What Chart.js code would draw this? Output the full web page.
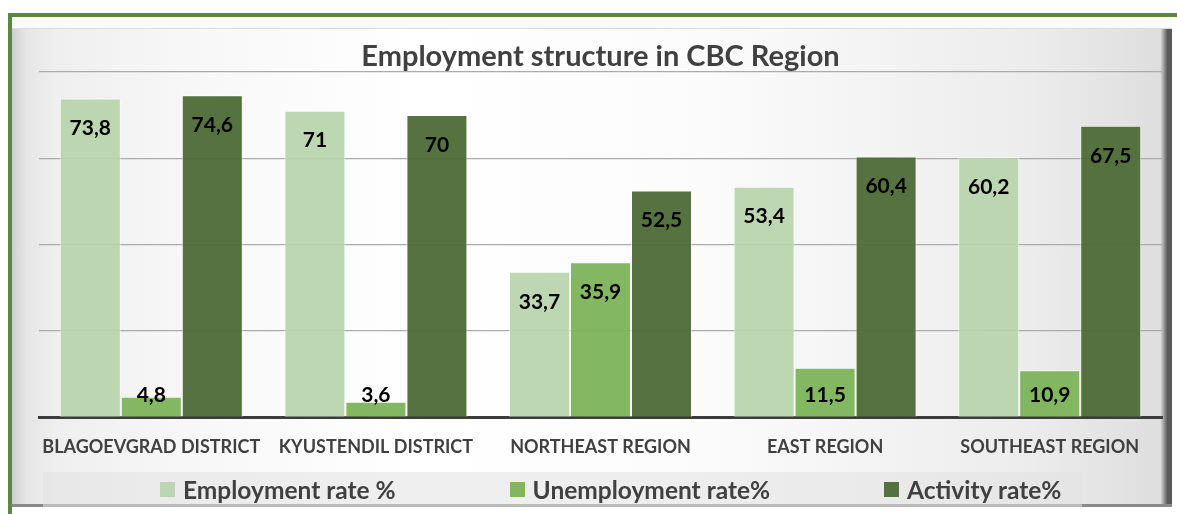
<!DOCTYPE html>
<html>
<head>
<meta charset="utf-8">
<script src="https://cdn.jsdelivr.net/npm/chart.js@4.4.1/dist/chart.umd.min.js"></script>
<style>
  html, body { margin: 0; padding: 0; background: #fff; width: 1177px; height: 514px; overflow: hidden; }
  #frame { position: absolute; left: 8px; top: 13px; width: 1180px; height: 520px;
    border-top: 4px solid #5b8b3a; border-left: 4px solid #5b8b3a; }
  #panel { position: absolute; left: 12px; top: 17px; width: 1160px; height: 490px;
    background: linear-gradient(90deg, #cfcfcf 0%, #e6e6e6 1.2%, #efefef 4%, #f7f7f7 15%, #ffffff 35%, #fbfbfb 60%, #ececec 88%, #dedede 99%, #5a5a5a 99.6%);
    box-shadow: inset 0 -3px 0 #8a8a8a, inset 0 11px 0 #fafafa, inset 0 12px 0 #dcdcdc; }
  #chartBox { position: absolute; left: 12px; top: 17px; width: 1160px; height: 490px; }
  #legend { position: absolute; left: 43px; top: 472px; width: 1039px; height: 35px;
    background: rgba(225,225,225,0.55); display: flex; align-items: center;
    padding-left: 117px; box-sizing: border-box;
    font-family: Lato, "Open Sans", sans-serif; font-weight: bold; font-size: 24.5px; color: #404040; }
  .item { display: flex; align-items: center; margin-right: 114px; white-space: nowrap; }
  .sw { width: 15px; height: 15px; margin-right: 8px; }
</style>
</head>
<body>
<div id="frame"></div>
<div id="panel"></div>
<div id="chartBox"><canvas id="chart" width="1160" height="490"></canvas></div>
<div id="legend"></div>
<script>
// categories
const regions = ['BLAGOEVGRAD DISTRICT', 'KYUSTENDIL DISTRICT', 'NORTHEAST REGION', 'EAST REGION', 'SOUTHEAST REGION'];
// series
const employment = [73.8, 71, 33.7, 53.4, 60.2];
const unemployment = [4.8, 3.6, 35.9, 11.5, 10.9];
const activity = [74.6, 70, 52.5, 60.4, 67.5];
const seriesNames = ['Employment rate %', 'Unemployment rate%', 'Activity rate%'];
const seriesColors = ['rgba(184,212,172,0.93)', 'rgba(124,179,88,0.95)', 'rgba(76,106,54,0.95)'];
const yTicks = [0, 20, 40, 60, 80];

// value labels inside the top of each bar (comma decimals)
const barLabels = {
  id: 'barLabels',
  afterDatasetsDraw(chart) {
    const ctx = chart.ctx;
    ctx.save();
    ctx.font = 'bold 21px Lato, "Open Sans", sans-serif';
    ctx.fillStyle = '#000';
    ctx.textAlign = 'center';
    ctx.textBaseline = 'middle';
    chart.data.datasets.forEach((ds, di) => {
      chart.getDatasetMeta(di).data.forEach((bar, i) => {
        const y = Math.min(bar.y + 30, bar.base - 22);
        ctx.fillText(String(ds.data[i]).replace('.', ','), bar.x, y);
      });
    });
    ctx.restore();
  }
};

const ctx = document.getElementById('chart').getContext('2d');
const chart = new Chart(ctx, {
  type: 'bar',
  data: {
    labels: regions,
    datasets: [employment, unemployment, activity].map((d, i) => ({
      label: seriesNames[i],
      data: d,
      backgroundColor: seriesColors[i],
      borderColor: 'rgba(255,255,255,0.6)',
      borderWidth: 1,
      barPercentage: 1.0,
      categoryPercentage: 0.815
    }))
  },
  options: {
    responsive: false,
    animation: false,
    layout: { padding: { left: 27, right: 10, top: 14, bottom: 30 } },
    scales: {
      x: {
        grid: { display: false, drawTicks: false },
        border: { color: '#3c3c3c', width: 3 },
        ticks: { color: '#404040', padding: 19, maxRotation: 0,
          font: { family: 'Lato', weight: 'bold', size: 18 } }
      },
      y: {
        min: 0, max: 80,
        afterBuildTicks: s => { s.ticks = yTicks.map(v => ({ value: v })); },
        ticks: { display: false },
        border: { display: false },
        grid: { drawTicks: false, lineWidth: 1.2,
          color: c => c.tick && c.tick.value === 0 ? 'rgba(0,0,0,0)' : '#ababab' }
      }
    },
    plugins: {
      legend: { display: false },
      tooltip: { enabled: false },
      title: {
        display: true,
        text: 'Employment structure in CBC Region',
        color: '#404040',
        padding: { top: 8, bottom: -2 },
        font: { family: 'Lato', weight: 'bold', size: 29 }
      }
    }
  },
  plugins: [barLabels]
});

// html legend from the datasets
const legendEl = document.getElementById('legend');
chart.data.datasets.forEach(ds => {
  const item = document.createElement('div');
  item.className = 'item';
  item.innerHTML = `<span class="sw" style="background:${ds.backgroundColor}"></span>${ds.label}`;
  legendEl.appendChild(item);
});
</script>
</body>
</html>
